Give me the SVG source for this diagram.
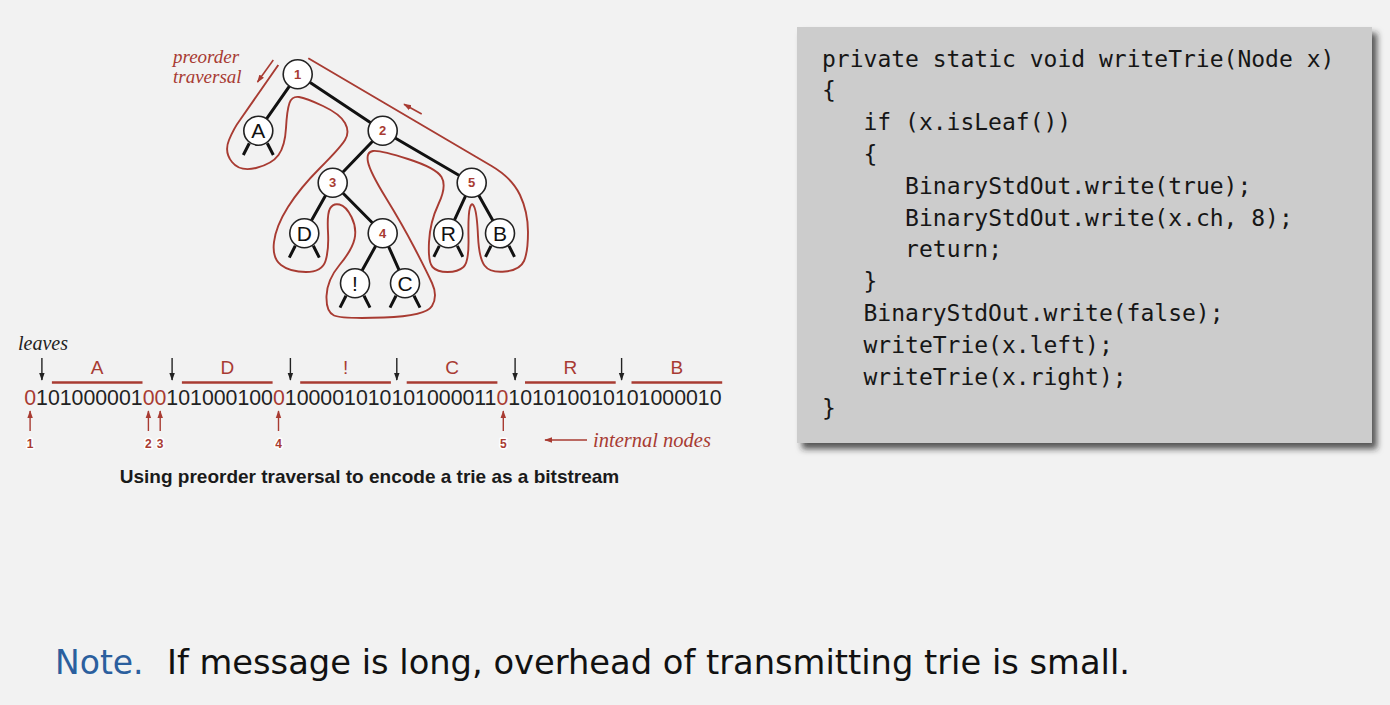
<svg xmlns="http://www.w3.org/2000/svg" width="1390" height="705" viewBox="0 0 1390 705">
  <style>
    .edge { stroke: #111; stroke-width: 3; stroke-linecap: round; fill: none; }
    .nul { stroke: #111; stroke-width: 3; fill: none; }
    .circ { fill: #fff; stroke: #222; stroke-width: 1.6; }
    .num { font-family: "Liberation Sans", Arial, sans-serif; font-weight: bold; font-size: 13px; fill: #a83b32; text-anchor: middle; }
    .ch { font-family: "Liberation Sans", Arial, sans-serif; font-size: 21px; fill: #111; text-anchor: middle; }
    .red { fill: #a83b32; }
    .redline { stroke: #a83b32; fill: none; }
    .ital { font-family: "Liberation Serif", "Times New Roman", serif; font-style: italic; }
    .bits { font-family: "Liberation Sans", Arial, sans-serif; font-size: 21.3px; fill: #222; }
    .seglabel { font-family: "Liberation Sans", Arial, sans-serif; font-size: 19px; fill: #a83b32; text-anchor: middle; }
    .idx { font-family: "Liberation Sans", Arial, sans-serif; font-weight: bold; font-size: 12px; fill: #a83b32; text-anchor: middle; stroke: #fff; stroke-width: 3px; paint-order: stroke; stroke-linejoin: round; }
    .code { font-family: "DejaVu Sans Mono", "Liberation Mono", monospace; font-size: 23px; fill: #161616; }
  </style>
  <defs>
    <marker id="headRed" viewBox="0 0 10 10" refX="9" refY="5" markerWidth="8" markerHeight="8" markerUnits="userSpaceOnUse" orient="auto">
      <path d="M0,1.5 L10,5 L0,8.5 z" fill="#a83b32"/>
    </marker>
    <marker id="headBlack" viewBox="0 0 10 10" refX="9" refY="5" markerWidth="8" markerHeight="8" markerUnits="userSpaceOnUse" orient="auto">
      <path d="M0,1.5 L10,5 L0,8.5 z" fill="#222"/>
    </marker>
    <filter id="boxShadow" x="-5%" y="-5%" width="115%" height="115%">
      <feDropShadow dx="5" dy="6" stdDeviation="3" flood-color="#222" flood-opacity="0.75"/>
    </filter>
  </defs>

  <rect x="0" y="0" width="1390" height="705" fill="#f2f2f2"/>

  <!-- tree links -->
  <g id="connectors">
    <line class="edge" x1="297.7" y1="74.3" x2="258.3" y2="130.7"/>
    <line class="edge" x1="297.7" y1="74.3" x2="382.7" y2="130.7"/>
    <line class="edge" x1="382.7" y1="130.7" x2="332.7" y2="182.7"/>
    <line class="edge" x1="382.7" y1="130.7" x2="471.7" y2="182.7"/>
    <line class="edge" x1="332.7" y1="182.7" x2="304.3" y2="233.3"/>
    <line class="edge" x1="332.7" y1="182.7" x2="382.7" y2="233.3"/>
    <line class="edge" x1="382.7" y1="233.3" x2="355" y2="283.3"/>
    <line class="edge" x1="382.7" y1="233.3" x2="405" y2="283.3"/>
    <line class="edge" x1="471.7" y1="182.7" x2="448.3" y2="233.3"/>
    <line class="edge" x1="471.7" y1="182.7" x2="500" y2="233.3"/>
  </g>

  <!-- preorder traversal contour -->
  <g id="traversal">
    <path class="redline" stroke-width="1.9" stroke-linejoin="round" d="M278.3,65 L240,120 Q234,128 229,140 Q224,152 232,162 Q240,172 256,168 Q272,164 278.5,155 Q285,146 286,128 Q287,110 289.5,103 Q292,96 299,97 Q306,98 323,106 Q340,114 345,123 Q350,132 345,140 Q340,148 320,168 Q300,188 288,207 Q276,226 274,242 Q272,258 281,265 Q290,272 306,272 Q322,272 325.5,261 Q329,250 328,232 Q327,214 330,208.5 Q333,203 339.5,204.5 Q346,206 351.5,217 Q357,228 354.5,239 Q352,250 339.5,265 Q327,280 326.5,296 Q326,312 334,315.5 Q342,319 384,317.5 Q426,316 432,306 Q438,296 432,283 Q426,270 414,247 Q402,224 386,198 Q370,172 368,162 Q366,152 373,151 Q380,150 408,159 Q436,168 441.5,177 Q447,186 438.5,204 Q430,222 429,242 Q428,262 432.5,267 Q437,272 447.5,272 Q458,272 463.5,267 Q469,262 468.5,238 Q468,214 470,207.5 Q472,201 474.5,207.5 Q477,214 478,236 Q479,258 484.5,265.5 Q490,273 505,271.5 Q520,270 524,261 Q528,252 528,232 Q528,212 520,195 Q512,178 491.6,166 L308.3,58.3"/>
    <line class="redline" stroke-width="1.6" x1="273.3" y1="60" x2="257.5" y2="82" marker-end="url(#headRed)"/>
    <line class="redline" stroke-width="1.6" x1="421.7" y1="114" x2="404" y2="104.2" marker-end="url(#headRed)"/>
    <text class="ital red" x="173" y="63" font-size="19">preorder</text>
    <text class="ital red" x="173" y="82.5" font-size="19">traversal</text>
  </g>

  <!-- internal nodes -->
  <g id="node-1"><circle class="circ" cx="297.7" cy="74.3" r="14.5"/><text class="num" x="297.7" y="78.8">1</text></g>
  <g id="node-2"><circle class="circ" cx="382.7" cy="130.7" r="14.5"/><text class="num" x="382.7" y="135.2">2</text></g>
  <g id="node-3"><circle class="circ" cx="332.7" cy="182.7" r="14.5"/><text class="num" x="332.7" y="187.2">3</text></g>
  <g id="node-4"><circle class="circ" cx="382.7" cy="233.3" r="14.5"/><text class="num" x="382.7" y="237.8">4</text></g>
  <g id="node-5"><circle class="circ" cx="471.7" cy="182.7" r="14.5"/><text class="num" x="471.7" y="187.2">5</text></g>

  <!-- leaves -->
  <g id="leaf-A">
    <path class="nul" d="M249.3,143.2 L243.3,155 M267.3,143.2 L273.3,155"/>
    <circle class="circ" cx="258.3" cy="130.7" r="14.5"/><text class="ch" x="258.3" y="138">A</text>
  </g>
  <g id="leaf-D">
    <path class="nul" d="M295.3,245.8 L289.3,257.6 M313.3,245.8 L319.3,257.6"/>
    <circle class="circ" cx="304.3" cy="233.3" r="14.5"/><text class="ch" x="304.3" y="240.6">D</text>
  </g>
  <g id="leaf-bang">
    <path class="nul" d="M346,295.8 L340,307.6 M364,295.8 L370,307.6"/>
    <circle class="circ" cx="355" cy="283.3" r="14.5"/><text class="ch" x="355" y="290.6">!</text>
  </g>
  <g id="leaf-C">
    <path class="nul" d="M396,295.8 L390,307.6 M414,295.8 L420,307.6"/>
    <circle class="circ" cx="405" cy="283.3" r="14.5"/><text class="ch" x="405" y="290.6">C</text>
  </g>
  <g id="leaf-R">
    <path class="nul" d="M439.3,245.8 L433.8,256.8 M457.3,245.8 L462.8,256.8"/>
    <circle class="circ" cx="448.3" cy="233.3" r="14.5"/><text class="ch" x="448.3" y="240.6">R</text>
  </g>
  <g id="leaf-B">
    <path class="nul" d="M491,245.8 L485.5,256.8 M509,245.8 L514.5,256.8"/>
    <circle class="circ" cx="500" cy="233.3" r="14.5"/><text class="ch" x="500" y="240.6">B</text>
  </g>

  <!-- bitstream -->
  <g id="bitstream">
    <text class="ital" x="18" y="350" font-size="20" fill="#222">leaves</text>

    <g stroke="#222" stroke-width="1.4">
      <line x1="41.9" y1="358" x2="41.9" y2="380" marker-end="url(#headBlack)"/>
      <line x1="172.1" y1="358" x2="172.1" y2="380" marker-end="url(#headBlack)"/>
      <line x1="290.4" y1="358" x2="290.4" y2="380" marker-end="url(#headBlack)"/>
      <line x1="396.8" y1="358" x2="396.8" y2="380" marker-end="url(#headBlack)"/>
      <line x1="515.1" y1="358" x2="515.1" y2="380" marker-end="url(#headBlack)"/>
      <line x1="621.6" y1="358" x2="621.6" y2="380" marker-end="url(#headBlack)"/>
    </g>

    <g stroke="#a83b32" stroke-width="2.6">
      <line x1="51.9" y1="382.5" x2="142.5" y2="382.5"/>
      <line x1="181.9" y1="382.5" x2="272.6" y2="382.5"/>
      <line x1="300.2" y1="382.5" x2="390.9" y2="382.5"/>
      <line x1="406.7" y1="382.5" x2="497.4" y2="382.5"/>
      <line x1="525" y1="382.5" x2="615.7" y2="382.5"/>
      <line x1="631.5" y1="382.5" x2="722.2" y2="382.5"/>
    </g>
    <text class="seglabel" x="97.2" y="373.5">A</text>
    <text class="seglabel" x="227.3" y="373.5">D</text>
    <text class="seglabel" x="345.6" y="373.5">!</text>
    <text class="seglabel" x="452" y="373.5">C</text>
    <text class="seglabel" x="570.4" y="373.5">R</text>
    <text class="seglabel" x="676.9" y="373.5">B</text>

    <text class="bits" x="24.2" y="405"><tspan class="red">0</tspan>101000001<tspan class="red">00</tspan>101000100<tspan class="red">0</tspan>100001010101000011<tspan class="red">0</tspan>101010010101000010</text>

    <g stroke="#a83b32" stroke-width="1.4">
      <line x1="30.1" y1="431" x2="30.1" y2="411" marker-end="url(#headRed)"/>
      <line x1="148.4" y1="431" x2="148.4" y2="411" marker-end="url(#headRed)"/>
      <line x1="160.2" y1="431" x2="160.2" y2="411" marker-end="url(#headRed)"/>
      <line x1="278.5" y1="431" x2="278.5" y2="411" marker-end="url(#headRed)"/>
      <line x1="503.3" y1="431" x2="503.3" y2="411" marker-end="url(#headRed)"/>
    </g>
    <text class="idx" x="30.1" y="448">1</text>
    <text class="idx" x="148.4" y="448">2</text>
    <text class="idx" x="160.2" y="448">3</text>
    <text class="idx" x="278.5" y="448">4</text>
    <text class="idx" x="503.3" y="448">5</text>

    <line class="redline" stroke-width="1.4" x1="587" y1="440" x2="545" y2="440" marker-end="url(#headRed)"/>
    <text class="ital red" x="593" y="446.5" font-size="20.5">internal nodes</text>
  </g>

  <text x="369.5" y="483" font-family="Liberation Sans, Arial, sans-serif" font-weight="bold" font-size="19" fill="#1a1a1a" text-anchor="middle">Using preorder traversal to encode a trie as a bitstream</text>

  <!-- code panel -->
  <g id="code-panel">
    <rect x="797" y="27" width="575" height="416" fill="#cccccc" filter="url(#boxShadow)"/>
    <text class="code" x="822" y="66.5">private static void writeTrie(Node x)</text>
    <text class="code" x="822" y="98.3">{</text>
    <text class="code" x="863.5" y="130.1">if (x.isLeaf())</text>
    <text class="code" x="863.5" y="161.9">{</text>
    <text class="code" x="905.1" y="193.7">BinaryStdOut.write(true);</text>
    <text class="code" x="905.1" y="225.5">BinaryStdOut.write(x.ch, 8);</text>
    <text class="code" x="905.1" y="257.3">return;</text>
    <text class="code" x="863.5" y="289.1">}</text>
    <text class="code" x="863.5" y="320.9">BinaryStdOut.write(false);</text>
    <text class="code" x="863.5" y="352.7">writeTrie(x.left);</text>
    <text class="code" x="863.5" y="384.5">writeTrie(x.right);</text>
    <text class="code" x="822" y="416.3">}</text>
  </g>

  <!-- footnote -->
  <text x="55" y="674" font-family="DejaVu Sans, Verdana, sans-serif" font-size="33" fill="#2b5f9e">Note.</text>
  <text x="167" y="674" font-family="DejaVu Sans, Verdana, sans-serif" font-size="33" fill="#111" textLength="963" lengthAdjust="spacingAndGlyphs">If message is long, overhead of transmitting trie is small.</text>
</svg>
